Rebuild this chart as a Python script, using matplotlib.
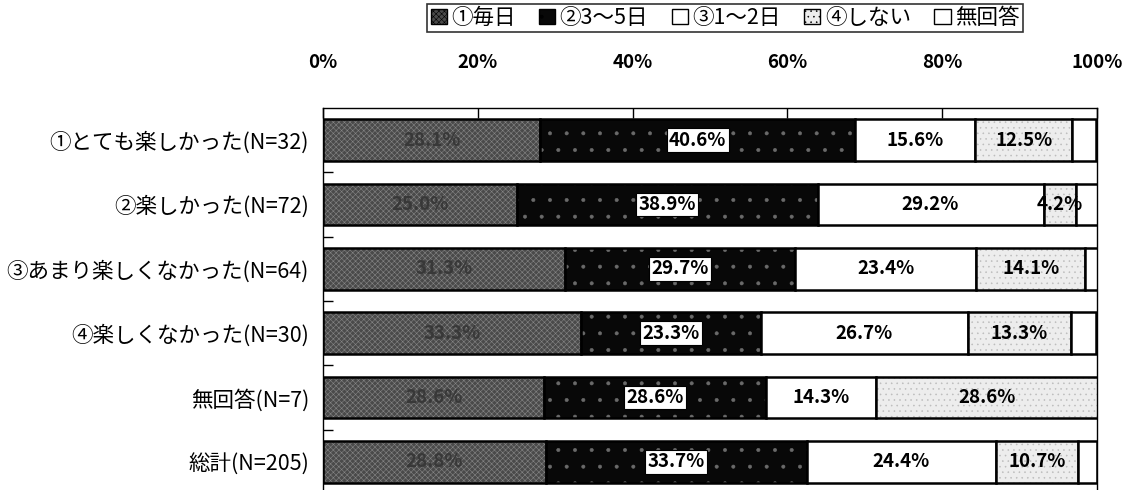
import matplotlib
matplotlib.use("Agg")
import matplotlib.pyplot as plt
import numpy as np
from matplotlib.patches import Patch

plt.rcParams['font.family'] = ['Noto Sans CJK JP', 'DejaVu Sans']
plt.rcParams['hatch.linewidth'] = 0.4

categories = ["①とても楽しかった(N=32)", "②楽しかった(N=72)", "③あまり楽しくなかった(N=64)",
              "④楽しくなかった(N=30)", "無回答(N=7)", "総計(N=205)"]
series_names = ["①毎日", "②3～5日", "③1～2日", "④しない", "無回答"]
s1 = [28.1, 25.0, 31.3, 33.3, 28.6, 28.8]
s2 = [40.6, 38.9, 29.7, 23.3, 28.6, 33.7]
s3 = [15.6, 29.2, 23.4, 26.7, 14.3, 24.4]
s4 = [12.5, 4.2, 14.1, 13.3, 28.6, 10.7]
s5 = [3.1, 2.8, 1.6, 3.3, 0.0, 2.4]
xticks = [0, 20, 40, 60, 80, 100]
xticklabels = ["0%", "20%", "40%", "60%", "80%", "100%"]

series = [s1, s2, s3, s4, s5]
faces = ['#4a4a4a', '#080808', '#ffffff', '#ededed', '#ffffff']
hatch_cols = ['#858585', '#6a6a6a', '#ffffff', '#bcbcbc', '#ffffff']
hatches = ['xxxxxx', '.', None, '...', None]

fig = plt.figure(figsize=(11.31, 4.90), dpi=100)
ax = fig.add_axes([323/1131, -4/490, (1097-323)/1131, (490-108+4)/490])

y = np.arange(len(categories))
h = 0.65
left = np.zeros(len(categories))
for i, vals in enumerate(series):
    v = np.array(vals)
    ax.barh(y, v, left=left, height=h, color=faces[i], edgecolor=hatch_cols[i],
            hatch=hatches[i], linewidth=0)
    ax.barh(y, v, left=left, height=h, fill=False, edgecolor='black', linewidth=1.8)
    for j in range(len(categories)):
        if v[j] <= 0 or i == 4:
            continue
        cx = left[j] + v[j] / 2
        txt = f"{v[j]:.1f}%"
        if i == 0:
            ax.text(cx, y[j], txt, ha='center', va='center', fontsize=13.5,
                    color='#383838', fontweight='bold')
        elif i == 1:
            ax.text(cx, y[j], txt, ha='center', va='center', fontsize=13.5, color='black',
                    fontweight='bold',
                    bbox=dict(boxstyle='square,pad=0.12', fc='white', ec='black', lw=0.8))
        else:
            ax.text(cx, y[j], txt, ha='center', va='center', fontsize=13.5, color='black',
                    fontweight='bold')
    left += v

ax.set_xlim(0, 100)
ax.set_ylim(5.5, -0.5)
ax.xaxis.tick_top()
ax.set_xticks(xticks)
ax.set_xticklabels(xticklabels, fontsize=13.5, fontweight='bold')
ax.tick_params(axis='x', direction='in', length=7, pad=26, width=1)
ax.set_yticks(y)
ax.set_yticklabels(categories, fontsize=15.5)
ax.tick_params(axis='y', length=0, pad=10)
ax.set_yticks(np.arange(0.5, 5.5, 1.0), minor=True)
ax.tick_params(axis='y', which='minor', direction='in', length=7, width=1)
ax.spines['bottom'].set_visible(False)
for s in ['top', 'left', 'right']:
    ax.spines[s].set_linewidth(1.0)

handles = [Patch(facecolor=faces[i], edgecolor='black', hatch=hatches[i], linewidth=1.0)
           for i in range(5)]
leg = fig.legend(handles, series_names, loc='center', bbox_to_anchor=(725/1131, 1 - 18/490),
                 ncol=5, fontsize=15.5, frameon=True, fancybox=False, edgecolor='black',
                 handlelength=0.75, handleheight=0.75, handletextpad=0.2, columnspacing=1.1,
                 borderpad=0.15)
leg.get_frame().set_linewidth(1.2)

fig.savefig("out.png", dpi=100)
